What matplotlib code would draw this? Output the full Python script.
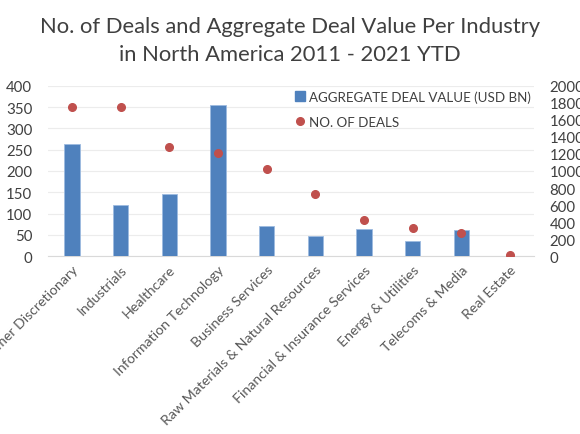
import matplotlib.pyplot as plt
import numpy as np
from matplotlib.lines import Line2D
from matplotlib.patches import Patch

plt.rcParams['font.family'] = ['Lato', 'DejaVu Sans']

industries = ['Consumer Discretionary', 'Industrials', 'Healthcare',
              'Information Technology', 'Business Services',
              'Raw Materials & Natural Resources',
              'Financial & Insurance Services', 'Energy & Utilities',
              'Telecoms & Media', 'Real Estate']
deal_value = [263, 120, 147, 355, 70, 47, 63, 36, 62, 1]
num_deals = [1755, 1745, 1285, 1210, 1020, 730, 422, 335, 273, 19]

BAR_BLUE = '#4f81bd'
DOT_RED = '#c0504d'
TEXT = '#404040'

fig = plt.figure(figsize=(5.8, 4.35), dpi=100)
ax = fig.add_axes([0.0822, 0.4085, 0.8390, 0.3922])
ax2 = ax.twinx()

x = np.arange(len(industries))
ax.bar(x, deal_value, width=0.31, color=BAR_BLUE, edgecolor='#9dbbe0',
       linewidth=0.6, zorder=3)
ax2.plot(x, num_deals, 'o', color=DOT_RED, markersize=5.5, zorder=4)

ax.set_xlim(-0.5, len(industries) - 0.5)
ax.set_ylim(0, 400)
ax.set_yticks(np.arange(0, 401, 50))
ax2.set_ylim(0, 2000)
ax2.set_yticks(np.arange(0, 2001, 200))

ax.yaxis.grid(True, color='#ececec', linewidth=0.8, zorder=0)
ax.set_axisbelow(True)
for a in (ax, ax2):
    for s in a.spines.values():
        s.set_visible(False)
ax.spines['bottom'].set_visible(True)
ax.spines['bottom'].set_color('#d9d9d9')

ax.set_xticks(x)
ax.set_xticklabels(industries, rotation=45, ha='right',
                   rotation_mode='anchor', color='#595959', fontsize=10.2)
ax.tick_params(axis='x', length=0, pad=5)
ax.tick_params(axis='y', length=0, pad=11, labelsize=10.8, labelcolor=TEXT)
ax2.tick_params(axis='y', length=0, pad=11, labelsize=10.8, labelcolor=TEXT)

fig.text(0.5, 0.906, 'No. of Deals and Aggregate Deal Value Per Industry\n'
         'in North America 2011 - 2021 YTD', ha='center', va='center',
         fontsize=15.8, color=TEXT, linespacing=1.5)

handles = [Patch(color=BAR_BLUE),
           Line2D([], [], marker='o', color=DOT_RED, linestyle='none',
                  markersize=5.5)]
labels = ['AGGREGATE DEAL VALUE (USD BN)', 'NO. OF DEALS']
leg = ax2.legend(handles, labels, loc='upper left',
                 bbox_to_anchor=(0.5, 0.803), bbox_transform=fig.transFigure,
                 frameon=False, fontsize=9.6, handlelength=0.7,
                 handletextpad=0.35, labelspacing=1.0, borderaxespad=0)
for t in leg.get_texts():
    t.set_color(TEXT)

fig.savefig('out.png', dpi=100)
